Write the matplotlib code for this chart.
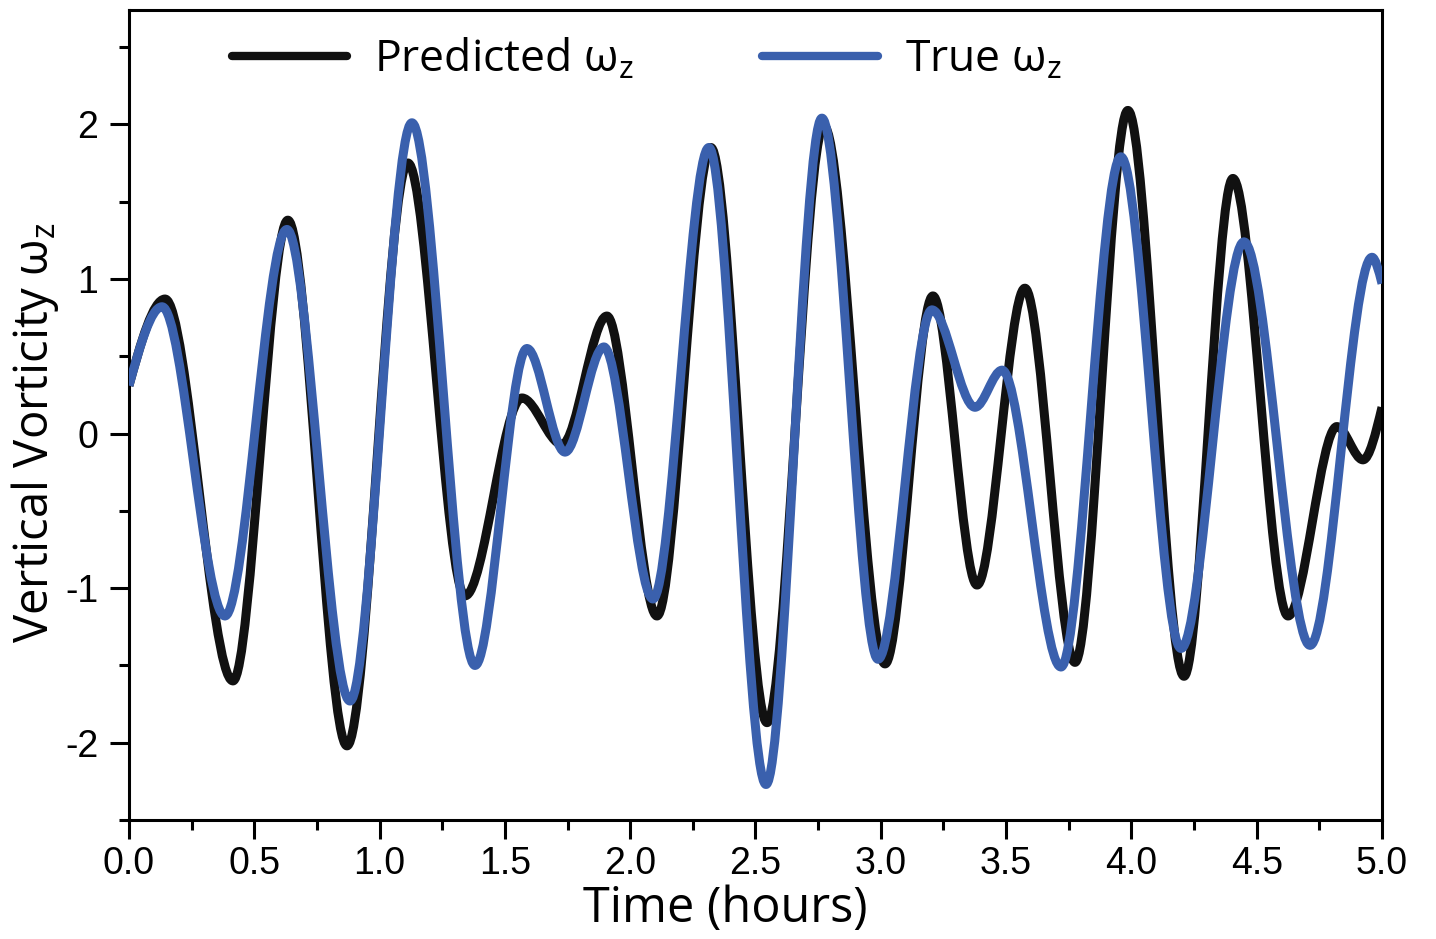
import numpy as np
import matplotlib
matplotlib.use("Agg")
import matplotlib.pyplot as plt
from matplotlib.path import Path
from matplotlib.patches import PathPatch
from matplotlib.lines import Line2D
from matplotlib.ticker import MultipleLocator

# Turning points of the predicted vorticity (time in hours, value)
pred_time = [0.0, 0.144, 0.415, 0.634, 0.870, 1.113, 1.341, 1.568, 1.728, 1.907,
             2.107, 2.322, 2.546, 2.773, 3.017, 3.208, 3.384, 3.575, 3.775, 3.986,
             4.210, 4.405, 4.625, 4.820, 4.924, 5.0]
pred_vort = [0.31, 0.87, -1.60, 1.38, -2.02, 1.75, -1.05, 0.23, -0.07, 0.76,
             -1.18, 1.85, -1.87, 1.99, -1.49, 0.89, -0.98, 0.94, -1.48, 2.09,
             -1.57, 1.65, -1.18, 0.045, -0.17, 0.17]

# Turning points of the true vorticity
true_time = [0.0, 0.132, 0.383, 0.630, 0.882, 1.129, 1.381, 1.588, 1.740, 1.895,
             2.091, 2.314, 2.542, 2.765, 2.989, 3.204, 3.376, 3.484, 3.719, 3.958,
             4.198, 4.449, 4.713, 4.960, 5.0]
true_vort = [0.31, 0.82, -1.18, 1.32, -1.73, 2.01, -1.50, 0.55, -0.12, 0.56,
             -1.07, 1.85, -2.27, 2.04, -1.46, 0.80, 0.17, 0.41, -1.51, 1.79,
             -1.39, 1.24, -1.37, 1.14, 0.97]

x_ticks = [0.0, 0.5, 1.0, 1.5, 2.0, 2.5, 3.0, 3.5, 4.0, 4.5, 5.0]
x_tick_labels = ["0.0", "0.5", "1.0", "1.5", "2.0", "2.5", "3.0", "3.5", "4.0", "4.5", "5.0"]
y_ticks = [-2, -1, 0, 1, 2]
y_tick_labels = ["-2", "-1", "0", "1", "2"]

series_labels = ["Predicted ω$_\\mathregular{z}$", "True ω$_\\mathregular{z}$"]
series_colors = ["#111111", "#3a60ad"]

LABEL_FONT = ["Open Sans", "DejaVu Sans"]
TICK_FONT = ["Liberation Sans", "DejaVu Sans"]


def smooth_path(t, v):
    """Piecewise cubic Bezier path through the points (flat at turning points)."""
    t = np.asarray(t, float)
    v = np.asarray(v, float)
    n = len(t)
    h = np.diff(t)
    s = np.diff(v) / h
    d = np.zeros(n)
    for i in range(1, n - 1):
        if s[i - 1] * s[i] > 0:
            d[i] = 2.0 / (1.0 / s[i - 1] + 1.0 / s[i])
    d[0] = 1.5 * s[0]
    d[-1] = 1.5 * s[-1]
    verts = [(t[0], v[0])]
    codes = [Path.MOVETO]
    for i in range(n - 1):
        verts += [(t[i] + h[i] / 3, v[i] + d[i] * h[i] / 3),
                  (t[i + 1] - h[i] / 3, v[i + 1] - d[i + 1] * h[i] / 3),
                  (t[i + 1], v[i + 1])]
        codes += [Path.CURVE4] * 3
    return Path(verts, codes)


fig = plt.figure(figsize=(14.36, 9.39), dpi=100)
ax = fig.add_axes([0.0898, 0.1267, 0.8726, 0.8627])

lw = 6.5
for (t, v), color, z in zip([(pred_time, pred_vort), (true_time, true_vort)],
                            series_colors, [2, 3]):
    ax.add_patch(PathPatch(smooth_path(t, v), facecolor="none", edgecolor=color,
                           lw=lw, capstyle="butt", joinstyle="round", zorder=z))

ax.set_xlim(0, 5)
ax.set_ylim(-2.5, 2.74)

ax.set_xticks(x_ticks)
ax.set_xticklabels(x_tick_labels)
ax.set_yticks(y_ticks)
ax.set_yticklabels(y_tick_labels)
ax.xaxis.set_minor_locator(MultipleLocator(0.25))
ax.yaxis.set_minor_locator(MultipleLocator(0.5))

ax.tick_params(which="major", direction="out", length=14, width=2.2, labelsize=27)
ax.tick_params(axis="x", which="major", pad=5)
ax.tick_params(axis="y", which="major", pad=8)
ax.tick_params(which="minor", direction="out", length=7, width=2.2)
for lab in ax.get_xticklabels() + ax.get_yticklabels():
    lab.set_fontfamily(TICK_FONT)

for sp in ax.spines.values():
    sp.set_linewidth(2.2)

ax.set_xlabel("Time (hours)", fontsize=35, family=LABEL_FONT)
ax.xaxis.set_label_coords(0.476, -0.11)
ax.xaxis.label.set_va("center")
ax.set_ylabel("Vertical Vorticity ω$_\\mathregular{z}$", fontsize=34, family=LABEL_FONT)
ax.yaxis.set_label_coords(-0.075, 0.479)
ax.yaxis.label.set_va("center")

handles = [Line2D([], [], color=c, lw=6, solid_capstyle="round") for c in series_colors]
leg = ax.legend(handles, series_labels, loc="center left", bbox_to_anchor=(0.082, 0.938),
                ncol=2, frameon=False, borderpad=0, borderaxespad=0, handlelength=2.6,
                handletextpad=0.6, columnspacing=2.9,
                prop={"family": LABEL_FONT, "size": 32})

fig.savefig("out.png", dpi=100, facecolor="white")
